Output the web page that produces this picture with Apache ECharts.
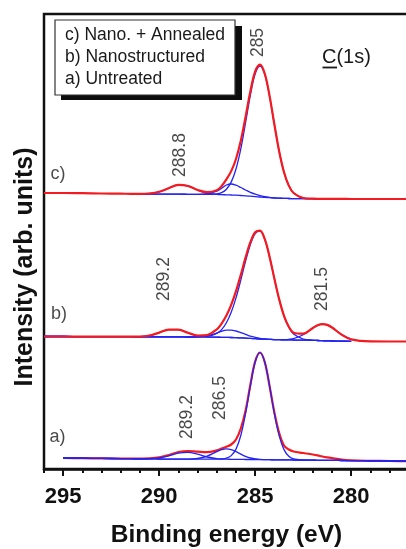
<!DOCTYPE html>
<html>
<head>
<meta charset="utf-8">
<script src="https://cdn.jsdelivr.net/npm/echarts@6/dist/echarts.min.js"></script>
<style>
  html, body { margin: 0; padding: 0; background: #fff; overflow: hidden; }
  /* the plot frame runs past the right edge of the page, so the canvas is wider than the window */
  #chart { width: 460px; height: 549px; }
</style>
</head>
<body>
<div id="chart"></div>
<script>
// Binding energy grid (eV), shared by all spectra
const energy = [296, 295, 294, 293, 292, 291.5, 291, 290.5, 290, 289.5, 289, 288.5, 288, 287.5, 287, 286.75, 286.5, 286.25, 286, 285.75, 285.5, 285.25, 285, 284.75, 284.5, 284.25, 284, 283.75, 283.5, 283.25, 283, 282.5, 282, 281.75, 281.5, 281.25, 281, 280.5, 280, 279, 278, 277, 276];

// c) Nano. + Annealed (offset stack, arb. units)
const cEnvelope = [276, 276, 275.8, 275.5, 275.3, 275.2, 275.1, 275.5, 277.2, 280.8, 284.1, 283.0, 279.0, 276.8, 278.8, 282.9, 289.6, 297.9, 310.0, 328.2, 352.3, 377.8, 397.6, 404.4, 395.2, 372.9, 344.5, 317.5, 296.8, 283.4, 276.0, 271.0, 270.3, 270.2, 270.2, 270.2, 270.1, 270.1, 270, 270, 270, 270, 270];
const cPeak288 = [null, null, null, null, null, null, 275.1, 275.5, 277.2, 280.8, 284.1, 283.0, 279.0, 275.8, 274.6, 274.3, 274.2, 274.0, 273.8, 273.5, 273.2, 272.8, 272.4, 272.0, 271.6, 271.3, 271.0, 270.8, 270.6, 270.5, 270.4, 270.3, 270.3, 270.2, 270.2, 270.2, 270.1, 270.1, 270, 270, 270, 270, 270];
const cPeak286 = [null, null, null, null, null, null, 275.0, 275.0, 274.9, 274.8, 274.8, 274.7, 274.6, 275.3, 277.9, 280.8, 284.0, 285.0, 283.8, 281.5, 279.0, 276.6, 274.8, 273.4, 272.4, 271.7, 271.2, 270.8, 270.6, 270.5, 270.4, 270.3, 270.3, 270.2, 270.2, 270.2, 270.1, 270.1, 270, 270, 270, 270, 270];
const cPeak285 = [null, null, null, null, null, null, 275.0, 275.0, 274.9, 274.8, 274.8, 274.7, 274.6, 274.6, 275.1, 276.4, 279.8, 286.9, 300.0, 320.2, 346.5, 374.0, 395.2, 403.0, 394.4, 372.5, 344.3, 317.5, 296.8, 283.4, 276.0, 271.0, 270.3, 270.2, 270.2, 270.2, 270.1, 270.1, 270, 270, 270, 270, 270];

// b) Nanostructured
const bEnvelope = [132.5, 132.5, 132.4, 132.3, 132.3, 132.3, 132.4, 133.5, 136.4, 139.4, 139.4, 136.2, 133.5, 134.0, 139.7, 145.4, 153.5, 164.1, 177.8, 194.2, 211.6, 226.8, 236.7, 238.4, 229.8, 212.1, 190.3, 169.6, 153.2, 142.3, 136.3, 135.3, 141.0, 143.7, 144.9, 144.1, 141.5, 134.4, 129.6, 127.6, 127.5, 127.5, 127.5];
const bPeak289 = [132.5, 132.5, 132.4, 132.3, 132.3, 132.3, 132.4, 133.5, 136.4, 139.4, 139.4, 136.2, 133.3, 132.1, 131.8, 131.7, 131.6, 131.5, 131.3, 131.1, 130.9, 130.6, 130.3, 130.0, 129.8, 129.6, 129.4, 129.3, 129.2, 129.1, 129.0, 128.9, 128.7, 128.5, 128.3, 128.1, 128.0, 127.8, 127.7, null, null, null, null];
const bPeak286 = [132.5, 132.5, 132.4, 132.3, 132.3, 132.3, 132.2, 132.2, 132.2, 132.1, 132.1, 132.0, 132.2, 133.1, 135.9, 137.7, 138.9, 138.9, 138.0, 136.4, 134.7, 132.9, 131.6, 130.6, 130.1, 129.7, 129.4, 129.3, 129.2, 129.1, 129.0, 128.9, 128.7, 128.5, 128.3, 128.1, 128.0, 127.8, 127.7, null, null, null, null];
const bPeak285 = [132.5, 132.5, 132.4, 132.3, 132.3, 132.3, 132.2, 132.2, 132.2, 132.1, 132.1, 132.0, 132.1, 132.6, 135.6, 139.4, 146.2, 156.7, 171.1, 188.9, 207.8, 224.5, 235.4, 237.8, 229.5, 212.0, 190.3, 169.6, 153.0, 141.7, 134.9, 129.9, 128.8, 128.5, 128.3, 128.1, 128.0, 127.8, 127.7, null, null, null, null];
const bPeak281 = [132.5, 132.5, 132.4, 132.3, 132.3, 132.3, 132.2, 132.2, 132.2, 132.1, 132.1, 132.0, 132.0, 131.9, 131.8, 131.7, 131.6, 131.5, 131.3, 131.1, 130.9, 130.6, 130.3, 130.0, 129.8, 129.6, 129.4, 129.3, 129.4, 129.7, 130.4, 134.3, 140.9, 143.7, 144.9, 144.1, 141.5, 134.4, 129.6, null, null, null, null];

// a) Untreated
const aEnvelope = [null, 11, 10.8, 10.6, 10.4, 10.3, 10.4, 10.6, 11.6, 14.0, 17.0, 18.0, 17.3, 16.8, 18.6, 20.4, 22.2, 24.5, 29.5, 40.5, 58.5, 84.5, 107.7, 116.5, 106.8, 82.8, 56.5, 36.0, 23.5, 19.5, 17.5, 16.0, 14.5, 13.6, 12.5, 11.6, 10.8, 9.3, 8.6, 8.2, 8.0, 7.8, 7.6];
const aPeak289 = [null, 11, 10.8, 10.6, 10.4, 10.3, 10.2, 10.3, 11.1, 13.1, 15.8, 16.7, 14.8, 12.0, 10.3, 10.0, 9.8, 9.7, 9.6, 9.6, 9.5, 9.5, 9.5, 9.4, 9.3, 9.3, 9.2, 9.2, 9.1, 9.1, 9.0, 8.9, 8.8, 8.7, 8.7, 8.6, 8.6, 8.5, 8.4, 8.2, 8.0, 7.8, 7.6];
const aPeak286 = [null, 11, 10.8, 10.6, 10.4, 10.3, 10.2, 10.1, 10.0, 9.9, 9.8, 9.8, 10.5, 12.9, 17.4, 19.4, 20.2, 19.4, 17.3, 14.9, 12.6, 11.0, 10.2, 9.6, 9.4, 9.3, 9.2, 9.2, 9.1, 9.1, 9.0, 8.9, 8.8, 8.7, 8.7, 8.6, 8.6, 8.5, 8.4, 8.2, 8.0, 7.8, 7.6];
const aPeak285 = [null, 11, 10.8, 10.6, 10.4, 10.3, 10.2, 10.1, 10.0, 9.9, 9.8, 9.8, 9.8, 9.8, 9.8, 10.0, 10.8, 13.4, 19.9, 33.5, 55.5, 83.0, 107.0, 116.4, 106.8, 82.8, 55.2, 33.1, 19.4, 12.8, 10.1, 9.0, 8.8, 8.7, 8.7, 8.6, 8.6, 8.5, 8.4, 8.2, 8.0, 7.8, 7.6];

// Peak position annotations (text, energy, height where the label sits)
const peakLabelText = ['285', '288.8', '289.2', '281.5', '289.2', '286.5'];
const peakLabelEnergy = [284.84, 288.9, 289.73, 281.5, 288.53, 286.81];
const peakLabelHeight = [426.5, 314, 190, 180, 52, 71];

// Spectrum tags
const tagText = ['c)', 'b)', 'a)'];
const tagEnergy = [295.27, 295.22, 295.3];
const tagHeight = [295, 155, 32];

// Legend entries
const legendLines = ['c) Nano. + Annealed', 'b) Nanostructured', 'a) Untreated'];

const FONT = '"Liberation Sans", Arial, Helvetica, sans-serif';
const RED = '#f41a1f';
const BLUE = '#2323f5';

function pairs(values) {
  const out = [];
  values.forEach((v, i) => { if (v !== null) out.push([energy[i], v]); });
  return out;
}

function curve(values, color, width) {
  return {
    type: 'line',
    data: pairs(values),
    xAxisIndex: 0,
    yAxisIndex: 0,
    smooth: 0.35,
    symbol: 'none',
    silent: true,
    clip: true,
    lineStyle: { color: color, width: width },
  };
}

const chart = echarts.init(document.getElementById('chart'), null, { renderer: 'canvas' });

const series = [
  // c) components under the envelope
  curve(cPeak288, BLUE, 1.3),
  curve(cPeak286, BLUE, 1.3),
  curve(cPeak285, BLUE, 1.3),
  curve(cEnvelope, RED, 2.2),
  // b)
  curve(bPeak289, BLUE, 1.3),
  curve(bPeak286, BLUE, 1.3),
  curve(bPeak285, BLUE, 1.3),
  curve(bPeak281, BLUE, 1.3),
  curve(bEnvelope, RED, 2.2),
  // a) envelope under the components
  curve(aEnvelope, RED, 2.2),
  curve(aPeak289, BLUE, 1.3),
  curve(aPeak286, BLUE, 1.3),
  curve(aPeak285, BLUE, 1.3),
  {
    type: 'scatter',
    silent: true,
    symbolSize: 0,
    data: peakLabelText.map((t, i) => ({ value: [peakLabelEnergy[i], peakLabelHeight[i]], name: t })),
    label: {
      show: true,
      position: 'inside',
      rotate: 90,
      formatter: p => p.name,
      fontFamily: FONT,
      fontSize: 17.5,
      color: '#1a1a1a',
    },
  },
  {
    type: 'scatter',
    silent: true,
    symbolSize: 0,
    data: tagText.map((t, i) => ({ value: [tagEnergy[i], tagHeight[i]], name: t })),
    label: {
      show: true,
      position: 'inside',
      formatter: p => p.name,
      fontFamily: FONT,
      fontSize: 18,
      color: '#1a1a1a',
    },
  },
];

const option = {
  animation: false,
  backgroundColor: '#ffffff',
  grid: {
    left: 44,
    top: 14,
    width: 403.2,
    height: 455,
    show: true,
    borderColor: '#111',
    borderWidth: 2.5,
    containLabel: false,
    outerBoundsMode: 'none',
  },
  xAxis: [
    {
      type: 'value',
      inverse: true,
      min: 275,
      max: 296,
      interval: 1,
      position: 'bottom',
      axisLine: { show: false },
      axisTick: { show: true, length: 4, lineStyle: { color: '#111', width: 2 } },
      axisLabel: { show: false },
      splitLine: { show: false },
    },
    {
      type: 'value',
      inverse: true,
      min: 275,
      max: 296,
      interval: 5,
      position: 'bottom',
      axisLine: { show: true, onZero: false, lineStyle: { color: '#111', width: 2.5 } },
      axisTick: { show: true, length: 7, lineStyle: { color: '#111', width: 2 } },
      axisLabel: {
        show: true,
        showMaxLabel: false,
        margin: 17,
        fontFamily: FONT,
        fontSize: 22,
        fontWeight: 'bold',
        color: '#111',
      },
      splitLine: { show: false },
    },
  ],
  yAxis: {
    type: 'value',
    min: 0,
    max: 455,
    axisLine: { show: false },
    axisTick: { show: false },
    axisLabel: { show: false },
    splitLine: { show: false },
  },
  series: series,
  graphic: [
    // legend box with drop shadow
    { type: 'rect', shape: { x: 61, y: 26, width: 181, height: 74 }, style: { fill: '#0d0d0d' }, silent: true },
    { type: 'rect', shape: { x: 55, y: 20, width: 180, height: 75 }, style: { fill: '#ffffff', stroke: '#333', lineWidth: 1.2 }, silent: true },
    ...legendLines.map((t, i) => ({
      type: 'text',
      silent: true,
      x: 65,
      y: 35.5 + i * 22,
      style: { text: t, fontFamily: FONT, fontSize: 17.5, fill: '#1a1a1a', textVerticalAlign: 'middle', textAlign: 'left' },
    })),
    // core level label with underlined element symbol
    {
      type: 'text', silent: true, x: 322, y: 57,
      style: { text: 'C(1s)', fontFamily: FONT, fontSize: 20, fill: '#1a1a1a', textVerticalAlign: 'middle', textAlign: 'left' },
    },
    { type: 'line', silent: true, shape: { x1: 322.5, y1: 67.5, x2: 337, y2: 67.5 }, style: { stroke: '#1a1a1a', lineWidth: 1.8 } },
    // axis titles
    {
      type: 'text', silent: true, x: 226.5, y: 535,
      style: { text: 'Binding energy (eV)', fontFamily: FONT, fontSize: 24.5, fontWeight: 'bold', fill: '#111', textAlign: 'center', textVerticalAlign: 'middle' },
    },
    {
      type: 'text', silent: true, x: 25, y: 267, rotation: Math.PI / 2,
      style: { text: 'Intensity (arb. units)', fontFamily: FONT, fontSize: 25, fontWeight: 'bold', fill: '#111', textAlign: 'center', textVerticalAlign: 'middle' },
    },
  ],
};

chart.setOption(option);
</script>
</body>
</html>
